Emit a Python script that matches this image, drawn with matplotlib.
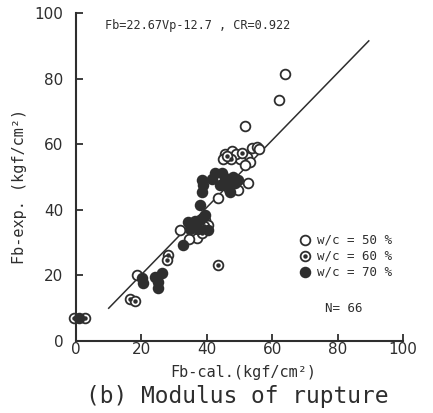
import matplotlib
matplotlib.use("Agg")
import matplotlib.pyplot as plt

# ---- data ----
open_x = [63.9, 62.2, 51.7, 45.6, 47.6, 45.0, 52.2, 53.7, 55.3, 50.2, 53.2, 51.7,
          49.6, 52.7, 43.5, 39.4, 40.5, 31.8, 36.9, 18.7, 49.0, 46.8, 56.0, 34.5]
open_y = [81.4, 73.5, 65.5, 57.0, 58.0, 55.5, 56.2, 58.7, 59.0, 55.4, 54.7, 53.7,
          46.0, 48.1, 43.5, 36.9, 35.4, 33.8, 31.3, 20.1, 57.0, 46.2, 58.5, 31.0]

dot_x = [50.7, 28.2, 27.7, 16.5, 18.0, 43.5, -0.5, 2.8, 47.5, 38.5, 46.2, 39.0]
dot_y = [57.4, 26.2, 24.7, 12.8, 12.2, 23.2, 6.9, 6.9, 55.5, 33.0, 56.5, 35.0]

fill_x = [42.5, 44.5, 45.6, 48.1, 48.6, 44.0, 46.6, 47.1, 38.4, 38.4, 37.9, 38.9,
          37.9, 34.3, 34.9, 40.5, 37.4, 32.8, 20.1, 20.6, 24.2, 25.2, 26.2, 25.2,
          1.0, 39.5, 36.5, 41.5, 49.5, 36.0]
fill_y = [51.1, 51.3, 49.6, 50.1, 48.1, 47.6, 47.6, 45.5, 49.1, 45.5, 41.5, 47.6,
          36.9, 36.4, 34.3, 33.8, 34.3, 29.3, 19.1, 17.8, 19.4, 18.1, 20.8, 16.3,
          6.9, 38.5, 36.5, 49.5, 49.0, 35.0]

line_x = [10.0, 89.5]
line_y = [10.0, 91.5]

ticks = [0, 20, 40, 60, 80, 100]
legend_labels = ["w/c = 50 %", "w/c = 60 %", "w/c = 70 %"]

ink = "#2e2e2e"
mono = "DejaVu Sans Mono"

fig = plt.figure(figsize=(4.33, 4.13), dpi=100)
ax = fig.add_axes([0.1755, 0.1743, 0.7555, 0.7942])

ax.plot(line_x, line_y, color=ink, lw=1.1)

ms = 7.0
ax.plot(open_x, open_y, 'o', ms=ms, mfc='white', mec=ink, mew=1.3, ls='none', clip_on=False)
ax.plot(dot_x, dot_y, 'o', ms=ms, mfc='white', mec=ink, mew=1.3, ls='none', clip_on=False)
ax.plot(dot_x, dot_y, 'o', ms=2.2, mfc=ink, mec=ink, ls='none', clip_on=False)
ax.plot(fill_x, fill_y, 'o', ms=ms, mfc=ink, mec=ink, mew=1.3, ls='none', clip_on=False)

ax.set_xlim(0, 100)
ax.set_ylim(0, 100)
ax.set_xticks(ticks)
ax.set_yticks(ticks)
ax.set_xticklabels([str(t) for t in ticks])
ax.set_yticklabels([str(t) for t in ticks])
for s in ['top', 'right']:
    ax.spines[s].set_visible(False)
for s in ['left', 'bottom']:
    ax.spines[s].set_color(ink)
    ax.spines[s].set_linewidth(1.5)
ax.tick_params(axis='both', direction='in', length=5, width=1.3, color=ink,
               labelcolor=ink, labelsize=11)
ax.tick_params(axis='x', pad=1)
ax.tick_params(axis='y', pad=9)

ax.set_xlabel("Fb-cal.(kgf/cm²)", family=mono, fontsize=11, color=ink)
ax.set_ylabel("Fb-exp. (kgf/cm²)", family=mono, fontsize=11, color=ink)
ax.xaxis.set_label_coords(0.51, -0.074)
ax.yaxis.set_label_coords(-0.15, 0.47)

fig.text(105/433, 1 - 25/413, "Fb=22.67Vp-12.7 , CR=0.922", family=mono,
         fontsize=8.6, color=ink, ha='left', va='center')

# legend (manual)
leg_rows = [240, 256, 272]
for i, (lab, yy) in enumerate(zip(legend_labels, leg_rows)):
    fy = 1 - yy / 413
    fx = 305 / 433
    if i == 0:
        fig.lines.append(plt.Line2D([fx], [fy], marker='o', ms=ms, mfc='white', mec=ink,
                                    mew=1.3, transform=fig.transFigure))
    elif i == 1:
        fig.lines.append(plt.Line2D([fx], [fy], marker='o', ms=ms, mfc='white', mec=ink,
                                    mew=1.3, transform=fig.transFigure))
        fig.lines.append(plt.Line2D([fx], [fy], marker='o', ms=2.2, mfc=ink, mec=ink,
                                    transform=fig.transFigure))
    else:
        fig.lines.append(plt.Line2D([fx], [fy], marker='o', ms=ms, mfc=ink, mec=ink,
                                    mew=1.3, transform=fig.transFigure))
    fig.text(317 / 433, fy, lab, family=mono, fontsize=9, color=ink, ha='left', va='center')

fig.text(325 / 433, 1 - 308 / 413, "N= 66", family=mono, fontsize=9, color=ink,
         ha='left', va='center')

fig.text(237 / 433, 1 - 397 / 413, "(b) Modulus of rupture", family=mono, fontsize=16.5,
         color=ink, ha='center', va='center')

fig.savefig("out.png", dpi=100, facecolor='white')
